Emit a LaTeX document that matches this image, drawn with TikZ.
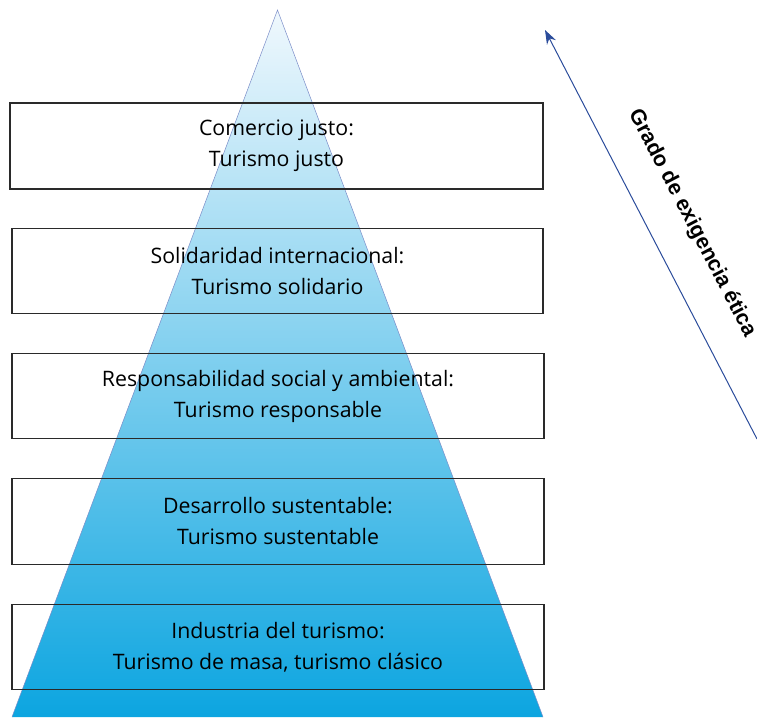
\documentclass[tikz,border=0pt]{standalone}
\usepackage{fontspec}
\setmainfont{Open Sans}
\newfontfamily\labelfont{Liberation Sans}
\usetikzlibrary{arrows.meta}
\definecolor{pyrtop}{HTML}{F0F8FD}
\definecolor{pyrbot}{HTML}{0CA5E0}
\definecolor{pyredge}{HTML}{7A8CC8}
\definecolor{arrowblue}{HTML}{2B4C9B}
\definecolor{boxline}{HTML}{2A2A2A}
\tikzset{
  levelbox/.style={draw=boxline, line width=1.1pt, inner sep=0pt, align=center,
    font={\fontsize{21.3}{31}\selectfont}, text=black},
  ethicarrow/.style={draw=arrowblue, line width=1pt, -{Stealth[length=14pt,width=10pt]}},
  ethiclabel/.style={font={\labelfont\bfseries\fontsize{21.5}{24}\selectfont}, rotate=-62.5, inner sep=0pt}
}
\begin{document}
\begin{tikzpicture}[x=1pt,y=-1pt]
\useasboundingbox (0,0) rectangle (757,717);
\coordinate (apex) at (277.5,10);
\coordinate (bl) at (12,717);
\coordinate (br) at (543,717);
\shade[top color=pyrtop, bottom color=pyrbot] (apex) -- (br) -- (bl) -- cycle;
\draw[pyredge, line width=0.5pt] (bl) -- (apex) -- (br);
\node[levelbox, minimum width=533pt, minimum height=86pt] (b1) at (276.5,146) {Comercio justo:\\Turismo justo};
\node[levelbox, minimum width=531pt, minimum height=85pt] (b2) at (277.5,271) {Solidaridad internacional:\\Turismo solidario};
\node[levelbox, minimum width=532pt, minimum height=85pt] (b3) at (278,396) {Responsabilidad social y ambiental:\\Turismo responsable};
\node[levelbox, minimum width=532pt, minimum height=86pt] (b4) at (278,521.5) {Desarrollo sustentable:\\Turismo sustentable};
\node[levelbox, minimum width=532pt, minimum height=85pt] (b5) at (278,647) {Industria del turismo:\\Turismo de masa, turismo clásico};
\coordinate (a0) at (757,439);
\coordinate (a1) at (545,30);
\draw[ethicarrow] (a0) -- (a1);
\node[ethiclabel] (lbl) at (692,223) {Grado de exigencia ética};
\end{tikzpicture}
\end{document}
